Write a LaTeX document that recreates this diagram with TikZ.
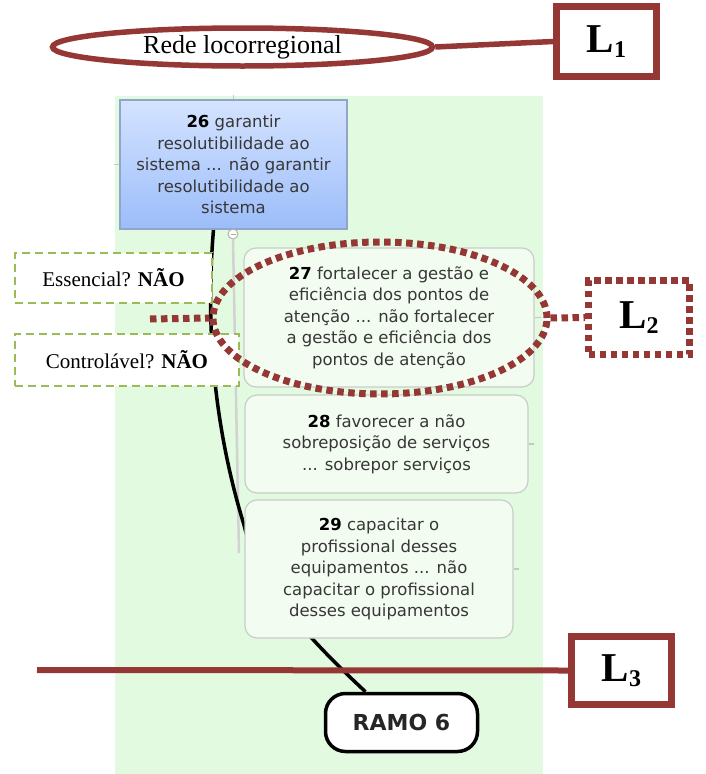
\documentclass[tikz,border=0pt]{standalone}
\usepackage{fontspec}
\setmainfont{Liberation Serif}
\newfontfamily\mapfont{DejaVu Sans}
\usetikzlibrary{shapes.geometric,backgrounds}

\definecolor{lred}{RGB}{149,55,53}
\definecolor{qgreen}{RGB}{155,187,89}
\definecolor{mapbg}{RGB}{226,251,224}
\definecolor{topicfill}{RGB}{243,252,241}
\definecolor{topicline}{RGB}{200,205,200}
\definecolor{maptext}{RGB}{55,55,55}
\definecolor{rootlight}{RGB}{212,227,255}
\definecolor{rootdark}{RGB}{156,189,250}

\newcommand\topicnum[1]{\textcolor{black}{\textbf{#1}}}
\newcommand\lmark[1]{{\fontsize{41}{41}\selectfont\textbf{L}}\raisebox{-5pt}{\fontsize{24}{24}\selectfont\textbf{#1}}}

\tikzset{
  topic/.style={draw=topicline, line width=1.2pt, fill=topicfill, rounded corners=12pt,
    inner sep=0pt, align=center, text=maptext, font=\mapfont\fontsize{16.5}{21.5}\selectfont},
  root/.style={topic, rounded corners=0pt, draw=rootdark!60!gray, top color=rootlight, bottom color=rootdark},
  ramobox/.style={draw=black, line width=3.5pt, fill=white, rounded corners=20pt, inner sep=0pt,
    font=\mapfont\bfseries\fontsize{22}{22}\selectfont, text=black!85},
  question/.style={draw=qgreen, dash pattern=on 8pt off 5pt, line width=2.8pt, fill=white,
    inner sep=0pt, font=\fontsize{21}{21}\selectfont},
  lbox/.style={draw=lred, line width=7pt, fill=white, inner sep=0pt},
  dotline/.style={draw=lred, line width=7pt, dash pattern=on 6.5pt off 4.5pt},
  redline/.style={draw=lred, line width=6pt},
  stub/.style={draw=gray!45, line width=1.2pt},
  branch/.style={draw=black, line width=3.5pt},
}

\begin{document}
\begin{tikzpicture}[x=1pt,y=-1pt]
  \useasboundingbox (0,0) rectangle (706,774);

  % level 1
  \node[ellipse, draw=lred, line width=5.5pt, minimum width=380pt, minimum height=38pt, inner sep=0pt,
    font=\fontsize{26}{26}\selectfont] (rede) at (242.5,47) {Rede locorregional};
  \node[lbox, minimum width=100pt, minimum height=70pt] (L1) at (606.5,41.5) {\lmark{1}};
  \draw[lred, line width=5.5pt] (rede.east) -- (L1.west);

  % mind map
  \node[root, minimum width=227pt, minimum height=129pt] (b26) at (233.5,164.5)
    {\topicnum{26} garantir\\resolutibilidade ao\\sistema ... não garantir\\resolutibilidade ao\\sistema};
  \node[topic, minimum width=290pt, minimum height=139pt] (b27) at (389,317.5)
    {\topicnum{27} fortalecer a gestão e\\eficiência dos pontos de\\atenção ... não fortalecer\\a gestão e eficiência dos\\pontos de atenção};
  \node[topic, minimum width=283pt, minimum height=98pt] (b28) at (386.5,444)
    {\topicnum{28} favorecer a não\\sobreposição de serviços\\... sobrepor serviços};
  \node[topic, minimum width=268pt, minimum height=138pt] (b29) at (379,569)
    {\topicnum{29} capacitar o\\profissional desses\\equipamentos ... não\\capacitar o profissional\\desses equipamentos};
  \node[ramobox, minimum width=152pt, minimum height=58pt] (ramo) at (401.5,722.5) {RAMO 6};

  \node[circle, draw=gray!60, fill=white, line width=1pt, minimum size=10pt, inner sep=0pt] (fold) at (233,234) {};
  \draw[gray!70, line width=1pt] ([xshift=-2.5pt]fold.center) -- ([xshift=2.5pt]fold.center);
  \coordinate (foot) at (239,553);

  \draw[stub] (b26.north) -- ++(0,-4);
  \draw[stub] (b26.west) -- ++(-5,0);
  \draw[stub] (b27.east) -- ++(6,0);
  \draw[stub] (b28.east) -- ++(5,0);
  \draw[stub] (b29.east) -- ++(5,0);

  \begin{pgfonlayer}{background}
    \fill[mapbg] (115,96) rectangle (543,774);
    \draw[gray!35, line width=2.5pt] (fold.south) -- (foot);
    \draw[branch] ([xshift=-20pt]b26.south) .. controls (205,330) and (215,430) .. (244,525)
      .. controls (258,585) and (310,640) .. ([xshift=-36pt]ramo.north);
  \end{pgfonlayer}

  % questions
  \node[question, minimum width=197pt, minimum height=50pt] (ess) at (113.5,278) {Essencial? \textbf{NÃO}};
  \node[question, minimum width=224pt, minimum height=52pt] (ctl) at (127,360) {Controlável? \textbf{NÃO}};

  % level 2
  \node[ellipse, dotline, minimum width=334pt, minimum height=152pt, inner sep=0pt] (hl) at (380,318) {};
  \node[lbox, dotline, fill=white, minimum width=101pt, minimum height=74pt] (L2) at (639,317.5) {\lmark{2}};
  \coordinate (dotend) at (150,319);
  \draw[dotline] (dotend) -- (hl.west);
  \draw[dotline] (hl.east) -- (L2.west);

  % level 3
  \node[lbox, minimum width=100pt, minimum height=68pt] (L3) at (621.5,670.5) {\lmark{3}};
  \coordinate (cut) at (37,670);
  \draw[redline] (cut) -- (L3.west);
\end{tikzpicture}
\end{document}
